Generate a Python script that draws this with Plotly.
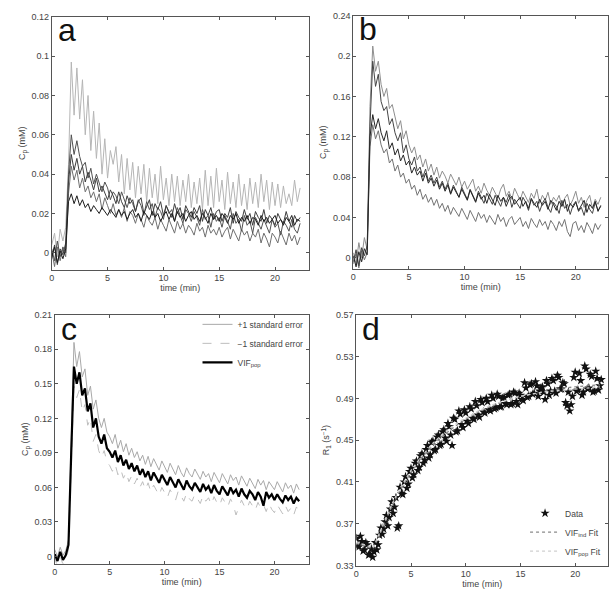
import plotly.graph_objects as go

# ---------------- data ----------------
# sampling times (min)
T = [0.0, 0.25, 0.5, 0.75, 1.0, 1.25, 1.5, 1.75, 2.0, 2.25,
     2.5, 2.75, 3.0, 3.25, 3.5, 3.75, 4.0, 4.25, 4.5, 4.75,
     5.0, 5.25, 5.5, 5.75, 6.0, 6.25, 6.5, 6.75, 7.0, 7.25,
     7.5, 7.75, 8.0, 8.25, 8.5, 8.75, 9.0, 9.25, 9.5, 9.75,
     10.0, 10.25, 10.5, 10.75, 11.0, 11.25, 11.5, 11.75, 12.0, 12.25,
     12.5, 12.75, 13.0, 13.25, 13.5, 13.75, 14.0, 14.25, 14.5, 14.75,
     15.0, 15.25, 15.5, 15.75, 16.0, 16.25, 16.5, 16.75, 17.0, 17.25,
     17.5, 17.75, 18.0, 18.25, 18.5, 18.75, 19.0, 19.25, 19.5, 19.75,
     20.0, 20.25, 20.5, 20.75, 21.0, 21.25, 21.5, 21.75, 22.0, 22.25]

# panel a: individual VIFs (mM)
A1 = [0.004, 0.010, -0.002, 0.012, 0.006, 0.013, 0.045, 0.097, 0.070, 0.094,
      0.068, 0.088, 0.060, 0.080, 0.052, 0.072, 0.048, 0.066, 0.040, 0.058,
      0.038, 0.052, 0.045, 0.054, 0.036, 0.050, 0.030, 0.048, 0.032, 0.046,
      0.028, 0.044, 0.030, 0.045, 0.026, 0.043, 0.028, 0.040, 0.025, 0.044,
      0.027, 0.038, 0.024, 0.040, 0.026, 0.039, 0.024, 0.037, 0.026, 0.040,
      0.023, 0.036, 0.025, 0.038, 0.022, 0.042, 0.024, 0.039, 0.023, 0.043,
      0.026, 0.037, 0.022, 0.041, 0.025, 0.036, 0.023, 0.040, 0.024, 0.035,
      0.022, 0.038, 0.025, 0.036, 0.023, 0.040, 0.026, 0.037, 0.022, 0.036,
      0.024, 0.035, 0.023, 0.034, 0.025, 0.030, 0.024, 0.037, 0.026, 0.033]
A2 = [0.002, -0.004, 0.006, -0.002, 0.003, 0.000, 0.040, 0.060, 0.050, 0.057,
      0.049, 0.044, 0.046, 0.038, 0.043, 0.035, 0.040, 0.036, 0.031, 0.036,
      0.033, 0.027, 0.031, 0.029, 0.025, 0.031, 0.027, 0.023, 0.028, 0.025,
      0.021, 0.027, 0.024, 0.019, 0.026, 0.022, 0.025, 0.018, 0.023, 0.021,
      0.017, 0.024, 0.020, 0.022, 0.016, 0.023, 0.019, 0.015, 0.022, 0.020,
      0.016, 0.021, 0.018, 0.014, 0.022, 0.017, 0.019, 0.013, 0.020, 0.016,
      0.018, 0.013, 0.019, 0.016, 0.012, 0.020, 0.015, 0.017, 0.011, 0.019,
      0.014, 0.016, 0.010, 0.018, 0.015, 0.012, 0.017, 0.013, 0.010, 0.017,
      0.013, 0.015, 0.009, 0.016, 0.014, 0.011, 0.017, 0.012, 0.010, 0.015]
A3 = [-0.003, 0.004, -0.006, 0.002, -0.001, 0.005, 0.036, 0.050, 0.042, 0.048,
      0.040, 0.044, 0.036, 0.041, 0.037, 0.032, 0.038, 0.031, 0.034, 0.030,
      0.027, 0.032, 0.029, 0.025, 0.031, 0.026, 0.023, 0.029, 0.025, 0.027,
      0.021, 0.026, 0.028, 0.020, 0.024, 0.027, 0.019, 0.025, 0.022, 0.026,
      0.019, 0.024, 0.021, 0.018, 0.025, 0.020, 0.023, 0.017, 0.024, 0.021,
      0.018, 0.023, 0.020, 0.024, 0.016, 0.022, 0.019, 0.023, 0.017, 0.021,
      0.022, 0.016, 0.020, 0.018, 0.023, 0.015, 0.021, 0.018, 0.016, 0.022,
      0.017, 0.020, 0.014, 0.021, 0.018, 0.016, 0.022, 0.015, 0.019, 0.017,
      0.014, 0.020, 0.017, 0.015, 0.021, 0.016, 0.013, 0.019, 0.016, 0.018]
A4 = [0.001, -0.007, 0.003, -0.004, 0.002, -0.002, 0.030, 0.044, 0.037, 0.042,
      0.033, 0.038, 0.031, 0.034, 0.028, 0.031, 0.026, 0.030, 0.022, 0.028,
      0.024, 0.020, 0.025, 0.019, 0.022, 0.018, 0.023, 0.016, 0.021, 0.019,
      0.015, 0.020, 0.017, 0.013, 0.019, 0.016, 0.014, 0.018, 0.012, 0.017,
      0.014, 0.011, 0.017, 0.013, 0.010, 0.016, 0.012, 0.015, 0.010, 0.014,
      0.012, 0.009, 0.015, 0.011, 0.013, 0.008, 0.014, 0.010, 0.012, 0.009,
      0.013, 0.008, 0.011, 0.013, 0.007, 0.012, 0.009, 0.006, 0.012, 0.009,
      0.011, 0.006, 0.010, 0.008, 0.012, 0.005, 0.010, 0.007, 0.003, 0.010,
      0.008, 0.005, 0.011, 0.007, 0.004, 0.010, 0.006, 0.009, 0.004, 0.008]
A5 = [-0.002, 0.003, -0.005, 0.001, -0.003, 0.002, 0.026, 0.030, 0.025, 0.029,
      0.024, 0.027, 0.023, 0.025, 0.021, 0.024, 0.022, 0.020, 0.023, 0.021,
      0.019, 0.022, 0.020, 0.018, 0.022, 0.019, 0.021, 0.017, 0.020, 0.022,
      0.018, 0.020, 0.016, 0.021, 0.019, 0.017, 0.021, 0.018, 0.020, 0.016,
      0.019, 0.021, 0.017, 0.020, 0.016, 0.021, 0.018, 0.020, 0.016, 0.019,
      0.021, 0.017, 0.019, 0.016, 0.020, 0.018, 0.015, 0.020, 0.017, 0.019,
      0.016, 0.020, 0.018, 0.015, 0.019, 0.017, 0.020, 0.015, 0.018, 0.016,
      0.019, 0.015, 0.018, 0.017, 0.014, 0.019, 0.016, 0.018, 0.015, 0.017,
      0.019, 0.015, 0.017, 0.014, 0.018, 0.016, 0.019, 0.014, 0.017, 0.016]

# panel b: individual VIFs (mM)
B1 = [0.005, -0.006, 0.015, 0.000, 0.020, 0.008, 0.150, 0.210, 0.185, 0.195,
      0.172, 0.160, 0.168, 0.148, 0.152, 0.140, 0.128, 0.136, 0.118, 0.126,
      0.112, 0.104, 0.110, 0.097, 0.102, 0.090, 0.098, 0.086, 0.093, 0.082,
      0.090, 0.079, 0.086, 0.081, 0.074, 0.083, 0.077, 0.072, 0.080, 0.070,
      0.076, 0.068, 0.073, 0.078, 0.066, 0.071, 0.064, 0.074, 0.067, 0.062,
      0.070, 0.064, 0.059, 0.068, 0.073, 0.061, 0.066, 0.058, 0.069, 0.063,
      0.057, 0.066, 0.061, 0.055, 0.064, 0.059, 0.068, 0.054, 0.062, 0.057,
      0.065, 0.053, 0.060, 0.056, 0.062, 0.051, 0.059, 0.063, 0.052, 0.058,
      0.066, 0.054, 0.060, 0.050, 0.057, 0.062, 0.049, 0.058, 0.053, 0.060]
B2 = [-0.004, 0.008, -0.008, 0.010, 0.002, 0.012, 0.130, 0.195, 0.170, 0.182,
      0.155, 0.146, 0.150, 0.132, 0.138, 0.124, 0.116, 0.124, 0.104, 0.112,
      0.098, 0.092, 0.100, 0.086, 0.090, 0.080, 0.088, 0.076, 0.082, 0.074,
      0.080, 0.070, 0.076, 0.068, 0.074, 0.064, 0.072, 0.066, 0.060, 0.070,
      0.063, 0.058, 0.068, 0.061, 0.056, 0.066, 0.059, 0.054, 0.064, 0.058,
      0.053, 0.062, 0.057, 0.051, 0.060, 0.055, 0.063, 0.050, 0.058, 0.054,
      0.049, 0.060, 0.055, 0.047, 0.058, 0.052, 0.056, 0.046, 0.054, 0.059,
      0.050, 0.045, 0.055, 0.051, 0.044, 0.057, 0.049, 0.053, 0.043, 0.052,
      0.056, 0.046, 0.050, 0.042, 0.054, 0.048, 0.044, 0.055, 0.047, 0.051]
B3 = [0.002, -0.009, 0.006, -0.004, 0.009, 0.003, 0.120, 0.142, 0.128, 0.138,
      0.124, 0.116, 0.126, 0.108, 0.114, 0.102, 0.108, 0.096, 0.102, 0.092,
      0.096, 0.084, 0.090, 0.082, 0.086, 0.076, 0.084, 0.074, 0.079, 0.071,
      0.077, 0.068, 0.074, 0.066, 0.072, 0.063, 0.070, 0.065, 0.060, 0.068,
      0.062, 0.057, 0.067, 0.060, 0.055, 0.064, 0.058, 0.062, 0.054, 0.063,
      0.057, 0.052, 0.062, 0.056, 0.060, 0.051, 0.058, 0.061, 0.053, 0.057,
      0.060, 0.051, 0.056, 0.049, 0.059, 0.054, 0.050, 0.058, 0.052, 0.056,
      0.048, 0.057, 0.053, 0.047, 0.056, 0.051, 0.058, 0.046, 0.054, 0.050,
      0.055, 0.047, 0.052, 0.057, 0.045, 0.053, 0.049, 0.056, 0.046, 0.052]
B4 = [-0.006, 0.004, -0.010, 0.007, -0.002, 0.005, 0.110, 0.132, 0.118, 0.126,
      0.112, 0.104, 0.108, 0.094, 0.098, 0.086, 0.092, 0.080, 0.084, 0.074,
      0.078, 0.068, 0.072, 0.062, 0.068, 0.058, 0.063, 0.055, 0.060, 0.052,
      0.058, 0.049, 0.054, 0.046, 0.052, 0.043, 0.050, 0.045, 0.041, 0.049,
      0.043, 0.038, 0.047, 0.041, 0.036, 0.045, 0.039, 0.043, 0.035, 0.042,
      0.038, 0.033, 0.043, 0.036, 0.040, 0.031, 0.038, 0.041, 0.033, 0.037,
      0.040, 0.031, 0.036, 0.029, 0.039, 0.034, 0.030, 0.038, 0.032, 0.036,
      0.028, 0.037, 0.033, 0.027, 0.036, 0.031, 0.038, 0.026, 0.021, 0.034,
      0.036, 0.027, 0.032, 0.025, 0.035, 0.030, 0.024, 0.034, 0.028, 0.033]

# panel c: population VIF and +/- 1 standard error (mM)
C_PLUS = [0.006, 0.000, 0.008, 0.001, 0.005, 0.014, 0.100, 0.186, 0.165, 0.178,
          0.156, 0.163, 0.140, 0.148, 0.128, 0.136, 0.120, 0.112, 0.120, 0.108,
          0.104, 0.098, 0.106, 0.094, 0.101, 0.091, 0.098, 0.088, 0.094, 0.086,
          0.091, 0.083, 0.088, 0.080, 0.087, 0.078, 0.085, 0.080, 0.075, 0.083,
          0.078, 0.073, 0.081, 0.076, 0.071, 0.079, 0.073, 0.069, 0.077, 0.072,
          0.069, 0.076, 0.071, 0.067, 0.074, 0.069, 0.072, 0.065, 0.073, 0.068,
          0.064, 0.072, 0.067, 0.063, 0.071, 0.066, 0.069, 0.062, 0.070, 0.065,
          0.061, 0.068, 0.064, 0.059, 0.067, 0.062, 0.066, 0.058, 0.065, 0.061,
          0.058, 0.065, 0.060, 0.056, 0.064, 0.059, 0.062, 0.055, 0.063, 0.058]
C_MINUS = [-0.002, -0.008, 0.000, -0.007, -0.003, 0.006, 0.080, 0.148, 0.138, 0.145,
           0.126, 0.132, 0.114, 0.120, 0.100, 0.106, 0.092, 0.086, 0.092, 0.082,
           0.079, 0.074, 0.080, 0.071, 0.076, 0.068, 0.073, 0.065, 0.070, 0.063,
           0.068, 0.060, 0.065, 0.058, 0.064, 0.056, 0.062, 0.058, 0.053, 0.060,
           0.056, 0.051, 0.058, 0.054, 0.049, 0.057, 0.052, 0.048, 0.055, 0.050,
           0.048, 0.054, 0.050, 0.046, 0.053, 0.048, 0.051, 0.045, 0.052, 0.047,
           0.044, 0.051, 0.047, 0.043, 0.050, 0.045, 0.036, 0.042, 0.049, 0.044,
           0.041, 0.048, 0.044, 0.040, 0.047, 0.042, 0.045, 0.039, 0.046, 0.041,
           0.038, 0.045, 0.041, 0.037, 0.044, 0.039, 0.042, 0.036, 0.043, 0.039]
C_POP = [0.002, -0.004, 0.004, -0.003, 0.001, 0.010, 0.090, 0.165, 0.150, 0.160,
         0.140, 0.146, 0.126, 0.133, 0.112, 0.120, 0.104, 0.098, 0.106, 0.094,
         0.091, 0.086, 0.092, 0.082, 0.088, 0.079, 0.084, 0.076, 0.081, 0.074,
         0.079, 0.071, 0.076, 0.069, 0.074, 0.066, 0.073, 0.068, 0.064, 0.071,
         0.066, 0.062, 0.069, 0.064, 0.060, 0.067, 0.062, 0.058, 0.066, 0.061,
         0.058, 0.064, 0.060, 0.056, 0.063, 0.058, 0.061, 0.055, 0.062, 0.057,
         0.054, 0.061, 0.057, 0.053, 0.060, 0.055, 0.058, 0.052, 0.059, 0.054,
         0.051, 0.057, 0.054, 0.049, 0.056, 0.052, 0.044, 0.056, 0.051, 0.054,
         0.049, 0.054, 0.050, 0.047, 0.053, 0.049, 0.052, 0.046, 0.051, 0.048]

# panel d: measured R1 (s^-1) and fits
TD1 = T
D1 = [0.356, 0.348, 0.353, 0.345, 0.350, 0.341, 0.338, 0.352, 0.350, 0.366,
      0.365, 0.378, 0.376, 0.391, 0.386, 0.366, 0.405, 0.398, 0.415, 0.408,
      0.423, 0.417, 0.430, 0.424, 0.437, 0.431, 0.445, 0.436, 0.449, 0.441,
      0.455, 0.446, 0.460, 0.449, 0.463, 0.445, 0.470, 0.459, 0.475, 0.462,
      0.476, 0.466, 0.480, 0.470, 0.483, 0.472, 0.486, 0.476, 0.487, 0.478,
      0.490, 0.481, 0.492, 0.482, 0.491, 0.484, 0.494, 0.485, 0.495, 0.484,
      0.493, 0.488, 0.500, 0.492, 0.504, 0.495, 0.502, 0.497, 0.501, 0.489,
      0.504, 0.497, 0.507, 0.495, 0.510, 0.499, 0.504, 0.483, 0.478, 0.492,
      0.515, 0.498, 0.507, 0.496, 0.518, 0.500, 0.511, 0.497, 0.509, 0.502]
TD2 = [0.125, 0.375, 0.625, 0.875, 1.125, 1.375, 1.625, 1.875, 2.125, 2.375,
       2.625, 2.875, 3.125, 3.375, 3.625, 3.875, 4.125, 4.375, 4.625, 4.875,
       5.125, 5.375, 5.625, 5.875, 6.125, 6.375, 6.625, 6.875, 7.125, 7.375,
       7.625, 7.875, 8.125, 8.375, 8.625, 8.875, 9.125, 9.375, 9.625, 9.875,
       10.125, 10.375, 10.625, 10.875, 11.125, 11.375, 11.625, 11.875, 12.125, 12.375,
       12.625, 12.875, 13.125, 13.375, 13.625, 13.875, 14.125, 14.375, 14.625, 14.875,
       15.125, 15.375, 15.625, 15.875, 16.125, 16.375, 16.625, 16.875, 17.125, 17.375,
       17.625, 17.875, 18.125, 18.375, 18.625, 18.875, 19.125, 19.375, 19.625, 19.875,
       20.125, 20.375, 20.625, 20.875, 21.125, 21.375, 21.625, 21.875, 22.125, 22.375]
D2 = [0.349, 0.358, 0.344, 0.352, 0.340, 0.346, 0.343, 0.345, 0.359, 0.360,
      0.372, 0.368, 0.384, 0.380, 0.395, 0.368, 0.399, 0.410, 0.404, 0.420,
      0.414, 0.428, 0.421, 0.435, 0.428, 0.441, 0.433, 0.448, 0.440, 0.453,
      0.445, 0.458, 0.452, 0.466, 0.455, 0.471, 0.458, 0.478, 0.465, 0.479,
      0.468, 0.482, 0.471, 0.487, 0.474, 0.489, 0.477, 0.490, 0.479, 0.493,
      0.480, 0.494, 0.482, 0.490, 0.485, 0.493, 0.484, 0.496, 0.487, 0.495,
      0.489, 0.505, 0.491, 0.503, 0.494, 0.506, 0.492, 0.500, 0.496, 0.507,
      0.493, 0.509, 0.497, 0.512, 0.499, 0.505, 0.486, 0.496, 0.484, 0.510,
      0.497, 0.514, 0.493, 0.521, 0.499, 0.513, 0.496, 0.516, 0.498, 0.508]
FIT_T = [0, 0.5, 1.0, 1.5, 2, 2.5, 3, 3.5, 4, 5, 6, 7, 8, 9, 10, 11, 12, 13,
         14, 15, 16, 17, 18, 19, 20, 21, 22.25]
FIT_IND = [0.351, 0.350, 0.348, 0.346, 0.356, 0.369, 0.381, 0.392, 0.402, 0.419,
           0.433, 0.445, 0.455, 0.463, 0.470, 0.476, 0.481, 0.485, 0.489, 0.492,
           0.494, 0.496, 0.498, 0.500, 0.501, 0.502, 0.503]
FIT_POP = [0.352, 0.351, 0.349, 0.347, 0.358, 0.371, 0.383, 0.394, 0.404, 0.421,
           0.435, 0.447, 0.457, 0.465, 0.471, 0.477, 0.482, 0.486, 0.489, 0.492,
           0.494, 0.496, 0.497, 0.498, 0.499, 0.500, 0.501]

TICKS_A = [0, 0.02, 0.04, 0.06, 0.08, 0.1, 0.12]
TICKS_B = [0, 0.04, 0.08, 0.12, 0.16, 0.2, 0.24]
TICKS_C = [0, 0.03, 0.06, 0.09, 0.12, 0.15, 0.18, 0.21]
TICKS_D = [0.33, 0.37, 0.41, 0.45, 0.49, 0.53, 0.57]
TICKS_X = [0, 5, 10, 15, 20]

# ---------------- figure ----------------
W, H = 616, 603
FONT = "Liberation Sans, Arial, Helvetica, sans-serif"
AXC = "#555555"
TXC = "#444444"


def px_dom_x(a, b):
    return [a / W, b / W]


def px_dom_y(top, bottom):
    return [1 - bottom / H, 1 - top / H]


def xaxis(dom, rng, anchor):
    return dict(domain=dom, range=rng, anchor=anchor, tickvals=TICKS_X,
                showline=True, linecolor=AXC, linewidth=1, mirror="ticks",
                ticks="inside", ticklen=3, tickcolor=AXC, showgrid=False,
                zeroline=False, tickfont=dict(size=9, color=TXC, family=FONT),
                title=dict(text="time (min)", font=dict(size=9, color=TXC, family=FONT),
                           standoff=2))


def yaxis(dom, rng, anchor, ticks, title):
    return dict(domain=dom, range=rng, anchor=anchor, tickvals=ticks,
                showline=True, linecolor=AXC, linewidth=1, mirror="ticks",
                ticks="inside", ticklen=3, tickcolor=AXC, showgrid=False,
                zeroline=False, tickfont=dict(size=9, color=TXC, family=FONT),
                title=dict(text=title, font=dict(size=9, color=TXC, family=FONT),
                           standoff=4))


fig = go.Figure()


def line(x, y, xa, ya, color, width=1, name=None, dash=None, legend=None, show=False):
    fig.add_trace(go.Scatter(x=x, y=y, xaxis=xa, yaxis=ya, mode="lines",
                             line=dict(color=color, width=width, dash=dash),
                             name=name, showlegend=show, legend=legend,
                             hoverinfo="skip"))


# panel a
line(T, A1, "x", "y", "#b5b5b5")
line(T, A4, "x", "y", "#6f6f6f")
line(T, A2, "x", "y", "#525252")
line(T, A3, "x", "y", "#3e3e3e")
line(T, A5, "x", "y", "#1c1c1c")

# panel b
line(T, B1, "x2", "y2", "#8e8e8e")
line(T, B4, "x2", "y2", "#727272")
line(T, B2, "x2", "y2", "#444444")
line(T, B3, "x2", "y2", "#262626")

# panel c
line(T, C_PLUS, "x3", "y3", "#a8a8a8", 1, "+1 standard error", None, "legend", True)
line(T, C_MINUS, "x3", "y3", "#bdbdbd", 1, "\u22121 standard error", "dash", "legend", True)
line(T, C_POP, "x3", "y3", "#000000", 2.2, "VIF<sub>pop</sub>", None, "legend", True)

# panel d
fig.add_trace(go.Scatter(x=TD1 + TD2, y=D1 + D2, xaxis="x4", yaxis="y4",
                         mode="markers", name="Data", legend="legend2",
                         marker=dict(symbol="star", size=7, color="#111111",
                                     line=dict(width=0)),
                         hoverinfo="skip"))
line(FIT_T, FIT_IND, "x4", "y4", "#8a8a8a", 1.3, "VIF<sub>ind</sub> Fit", "dot", "legend2", True)
line(FIT_T, FIT_POP, "x4", "y4", "#d0d0d0", 1.3, "VIF<sub>pop</sub> Fit", "dot", "legend2", True)

legend_common = dict(bgcolor="rgba(0,0,0,0)", borderwidth=0,
                     font=dict(size=8.5, color=TXC, family=FONT),
                     itemwidth=30, tracegroupgap=0)

fig.update_layout(
    width=W, height=H,
    margin=dict(l=0, r=0, t=0, b=0),
    paper_bgcolor="white", plot_bgcolor="white",
    font=dict(family=FONT, color=TXC, size=9),
    xaxis=xaxis(px_dom_x(49, 307), [0, 23.0], "y"),
    yaxis=yaxis(px_dom_y(12, 269), [-0.0085, 0.12], "x", TICKS_A, "C<sub>p</sub> (mM)"),
    xaxis2=xaxis(px_dom_x(352, 608), [0, 22.9], "y2"),
    yaxis2=yaxis(px_dom_y(11, 268), [-0.0107, 0.24], "x2", TICKS_B, "C<sub>p</sub> (mM)"),
    xaxis3=xaxis(px_dom_x(52, 307), [0, 23.1], "y3"),
    yaxis3=yaxis(px_dom_y(315, 568), [-0.0062, 0.21], "x3", TICKS_C, "C<sub>p</sub> (mM)"),
    xaxis4=xaxis(px_dom_x(355, 608), [0, 23.0], "y4"),
    yaxis4=yaxis(px_dom_y(315, 570), [0.33, 0.57], "x4", TICKS_D, "R<sub>1</sub> (s<sup>\u22121</sup>)"),
    legend=dict(x=307 / W, y=1 - 310 / H, xanchor="right", yanchor="top", **legend_common),
    legend2=dict(x=606 / W, y=1 - 502 / H, xanchor="right", yanchor="top", **legend_common),
)

for lab, xr, yr in [("a", "x domain", "y domain"), ("b", "x2 domain", "y2 domain"),
                    ("c", "x3 domain", "y3 domain"), ("d", "x4 domain", "y4 domain")]:
    fig.add_annotation(text=lab, xref=xr, yref=yr, x=0.015, y=1.025,
                       xanchor="left", yanchor="top", showarrow=False,
                       font=dict(size=32, color="#111111", family=FONT))

fig.write_html("out.html", config={"displayModeBar": False},
               post_script="document.body.style.margin='0';document.body.style.overflow='hidden';")
